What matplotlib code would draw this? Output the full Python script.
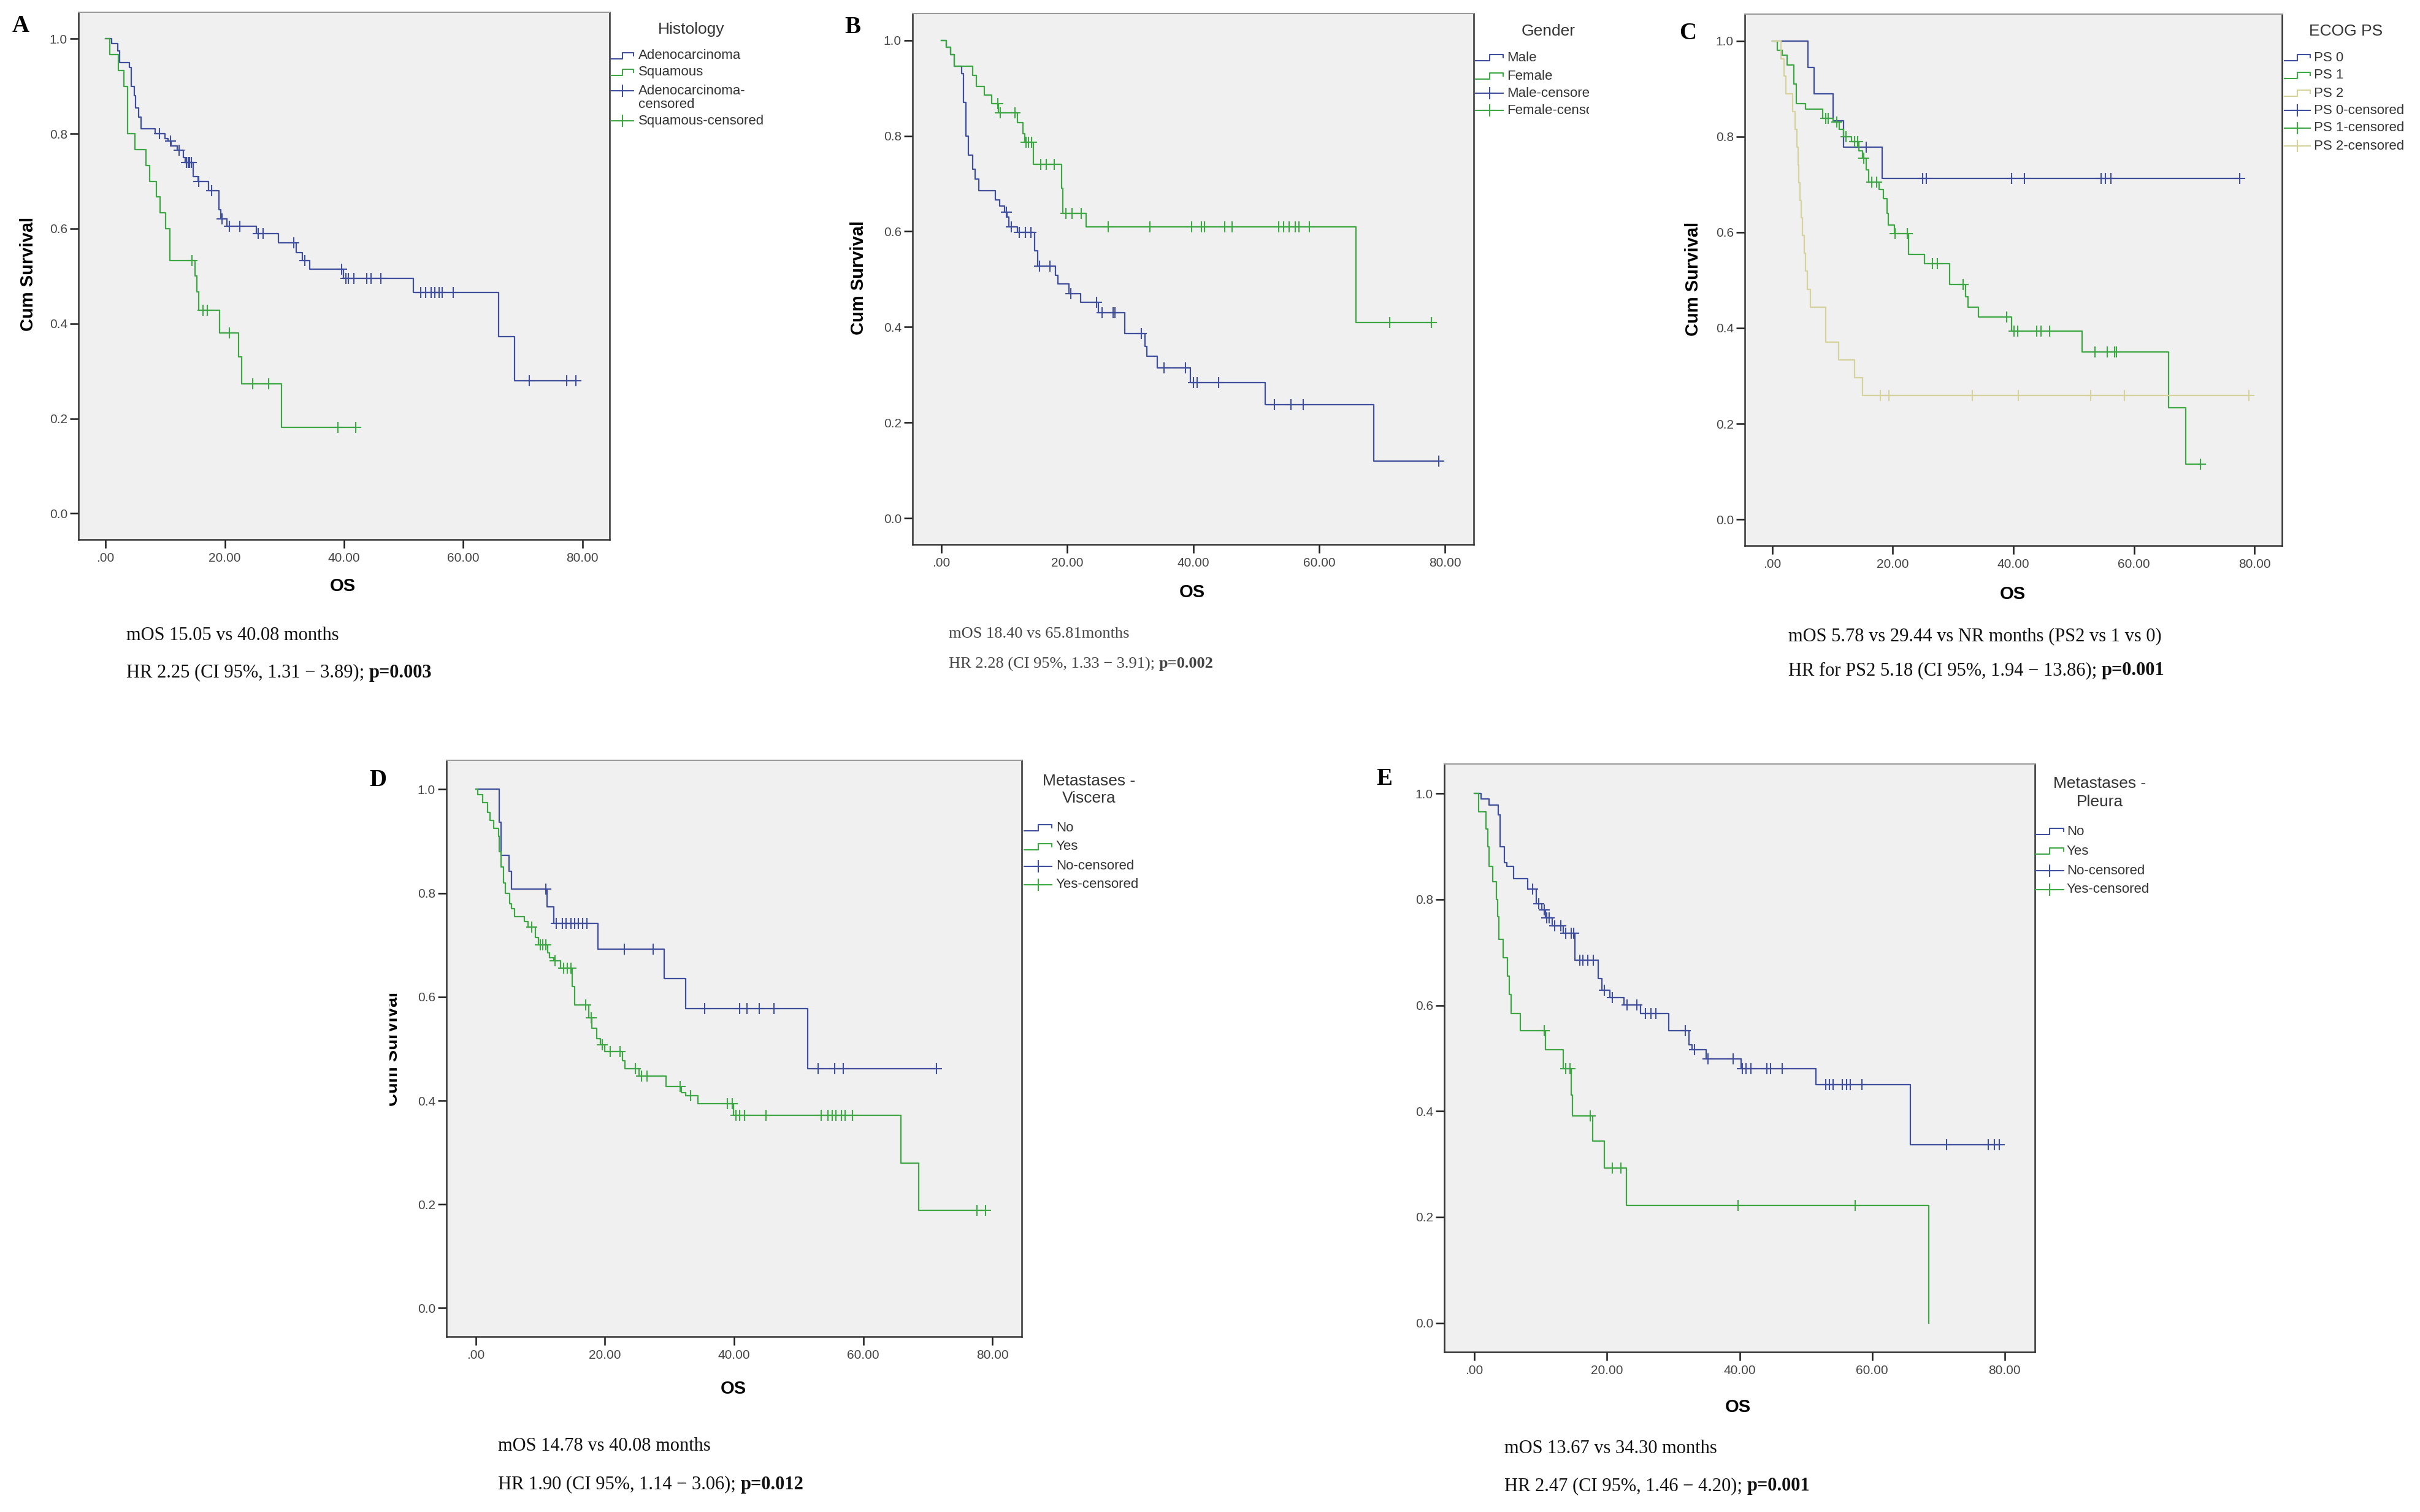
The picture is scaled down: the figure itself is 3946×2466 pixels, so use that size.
import numpy as np
import matplotlib
matplotlib.use("Agg")
import matplotlib.pyplot as plt
from matplotlib.lines import Line2D
from matplotlib.transforms import Bbox, TransformedBbox

W, H = 3946, 2466

BLUE = "#3F4F9E"
GREEN = "#3DA843"
TAN = "#D6D29C"

# ---- A: histology ----
adeno_t = [1.0, 2.0, 2.3, 4.0, 4.3, 4.8, 5.0, 5.5, 5.9, 8.3, 10.0, 10.5, 11.0, 12.0, 13.0, 13.4, 14.7, 15.5,
           17.3, 19.0, 19.3, 20.4, 25.3, 29.0, 32.0, 33.0, 34.2, 39.9, 51.6, 65.9, 68.6]
adeno_s = [0.99, 0.975, 0.95, 0.94, 0.90, 0.88, 0.855, 0.835, 0.81, 0.80, 0.79, 0.785, 0.775, 0.765, 0.75, 0.74,
           0.71, 0.70, 0.68, 0.64, 0.62, 0.605, 0.59, 0.57, 0.55, 0.533, 0.515, 0.495, 0.465, 0.372, 0.279]
adeno_c = [9.0, 10.9, 12.3, 13.6, 13.9, 14.1, 14.4, 15.6, 17.8, 19.5, 20.8, 22.5, 25.6, 26.4, 31.6, 33.4, 39.6,
           40.3, 40.7, 41.6, 43.8, 44.5, 46.2, 52.9, 53.7, 54.6, 55.2, 55.9, 56.5, 58.3, 71.1, 77.3, 78.9]
squam_t = [0.7, 2.1, 3.1, 3.7, 4.9, 6.8, 7.4, 8.5, 9.1, 10.1, 10.8, 15.0, 15.3, 15.6, 19.1, 22.3, 22.8, 29.5]
squam_s = [0.967, 0.933, 0.90, 0.80, 0.767, 0.733, 0.70, 0.667, 0.633, 0.60, 0.533, 0.50, 0.467, 0.428, 0.38,
           0.33, 0.273, 0.182]
squam_c = [14.5, 16.3, 17.1, 20.8, 24.7, 27.3, 39.0, 42.0]

# ---- B: gender ----
male_t = [0.8, 1.5, 2.1, 3.2, 3.5, 3.9, 4.3, 5.0, 5.4, 6.0, 8.6, 9.3, 10.1, 10.4, 10.7, 12.1, 14.8, 15.3, 18.1,
          18.5, 20.3, 22.1, 25.0, 29.1, 32.4, 32.6, 34.3, 39.6, 51.4, 68.7]
male_s = [0.985, 0.97, 0.946, 0.93, 0.87, 0.80, 0.76, 0.73, 0.709, 0.685, 0.666, 0.653, 0.64, 0.63, 0.61, 0.598,
          0.56, 0.527, 0.508, 0.49, 0.47, 0.452, 0.43, 0.386, 0.36, 0.339, 0.315, 0.284, 0.237, 0.12]
male_c = [10.3, 11.1, 12.4, 13.4, 14.2, 15.6, 17.3, 20.6, 24.7, 25.5, 27.3, 27.6, 31.8, 35.4, 38.8, 40.0, 40.6,
          44.0, 52.9, 55.5, 57.5, 79.0]
female_t = [0.8, 1.5, 2.1, 5.0, 5.6, 6.8, 8.0, 9.1, 12.1, 13.0, 13.3, 14.6, 19.1, 19.3, 23.0, 65.9]
female_s = [0.985, 0.97, 0.946, 0.927, 0.903, 0.885, 0.867, 0.848, 0.828, 0.805, 0.786, 0.741, 0.69, 0.638,
            0.61, 0.409]
female_c = [9.0, 9.4, 11.7, 13.5, 13.9, 14.3, 15.8, 16.7, 17.9, 19.8, 20.8, 22.2, 26.5, 33.1, 39.8, 41.3, 41.8,
            45.0, 46.2, 53.6, 54.4, 55.2, 56.2, 56.8, 58.5, 71.2, 77.8]

# ---- C: ECOG PS ----
ps0_t = [5.9, 6.9, 10.1, 11.8, 18.2]
ps0_s = [0.944, 0.889, 0.833, 0.778, 0.713]
ps0_c = [15.6, 24.9, 25.6, 39.7, 41.8, 54.5, 55.3, 56.2, 77.5]
ps1_t = [0.85, 1.7, 2.5, 3.6, 4.0, 5.5, 8.4, 10.1, 11.1, 11.8, 13.1, 14.4, 15.0, 15.6, 16.0, 17.7, 18.4, 19.0,
         19.3, 20.3, 22.6, 25.3, 29.4, 32.1, 32.5, 34.2, 39.7, 51.4, 65.7, 68.6]
ps1_s = [0.98, 0.97, 0.95, 0.91, 0.869, 0.858, 0.838, 0.83, 0.815, 0.80, 0.79, 0.77, 0.755, 0.73, 0.705, 0.69,
         0.67, 0.64, 0.615, 0.597, 0.554, 0.535, 0.491, 0.465, 0.444, 0.423, 0.394, 0.35, 0.233, 0.115]
ps1_c = [8.9, 9.3, 10.7, 12.2, 13.7, 14.2, 15.2, 16.5, 17.3, 20.4, 22.4, 26.6, 27.4, 31.7, 38.9, 40.1, 40.7,
         43.9, 44.6, 46.0, 53.5, 55.6, 56.8, 57.1, 71.0]
ps2_t = [1.5, 2.0, 2.3, 3.4, 3.8, 4.1, 4.3, 4.4, 4.6, 4.8, 5.0, 5.3, 5.5, 5.8, 6.3, 8.9, 11.0, 13.7, 15.0]
ps2_s = [0.963, 0.926, 0.889, 0.852, 0.815, 0.778, 0.741, 0.704, 0.667, 0.630, 0.593, 0.556, 0.519, 0.481,
         0.444, 0.370, 0.333, 0.296, 0.259]
ps2_c = [17.9, 19.4, 33.2, 40.8, 52.8, 58.4, 79.1]

# ---- D: viscera metastases ----
visc_no_t = [3.6, 3.9, 5.1, 5.5, 11.0, 12.1, 18.9, 29.2, 32.5, 51.4]
visc_no_s = [0.937, 0.873, 0.842, 0.808, 0.773, 0.742, 0.692, 0.635, 0.577, 0.461]
visc_no_c = [10.8, 12.5, 13.4, 14.0, 14.7, 15.3, 15.9, 16.5, 17.2, 23.0, 27.5, 35.4, 40.9, 42.0, 43.9, 46.2,
             53.0, 55.6, 56.9, 71.3]
visc_yes_t = [0.3, 1.1, 1.8, 2.2, 2.8, 3.5, 3.6, 3.9, 4.3, 4.6, 5.2, 5.5, 6.0, 7.5, 8.1, 9.2, 9.7, 11.1, 11.4,
              12.1, 13.1, 14.9, 15.3, 17.5, 18.0, 18.7, 19.3, 20.0, 22.7, 23.1, 25.3, 29.5, 31.8, 32.5, 34.4,
              39.9, 65.8, 68.6]
visc_yes_s = [0.99, 0.975, 0.955, 0.94, 0.925, 0.91, 0.88, 0.85, 0.82, 0.80, 0.78, 0.77, 0.755, 0.745, 0.735,
              0.715, 0.70, 0.685, 0.675, 0.67, 0.655, 0.62, 0.584, 0.56, 0.54, 0.52, 0.508, 0.495, 0.477, 0.462,
              0.447, 0.427, 0.415, 0.41, 0.394, 0.372, 0.28, 0.188]
visc_yes_c = [8.7, 10.0, 10.4, 10.8, 12.3, 13.6, 14.2, 14.7, 17.0, 17.9, 19.6, 20.8, 22.3, 24.7, 25.7, 26.5,
              31.6, 33.3, 39.0, 39.7, 40.3, 40.9, 41.6, 44.9, 53.5, 54.5, 55.2, 55.8, 56.6, 57.2, 58.3, 77.6, 78.9]

# ---- E: pleura metastases ----
pleu_no_t = [1.0, 2.2, 3.6, 3.9, 4.5, 4.9, 5.9, 8.0, 9.3, 10.2, 10.7, 11.7, 13.4, 15.2, 18.7, 19.2, 20.4, 22.6,
             25.1, 29.3, 32.4, 32.8, 35.0, 40.2, 51.5, 65.8]
pleu_no_s = [0.99, 0.978, 0.96, 0.90, 0.87, 0.862, 0.839, 0.82, 0.792, 0.78, 0.765, 0.75, 0.736, 0.685, 0.65,
             0.629, 0.615, 0.601, 0.585, 0.552, 0.525, 0.516, 0.499, 0.48, 0.45, 0.337]
pleu_no_c = [8.8, 9.7, 10.5, 10.9, 11.3, 12.1, 13.0, 13.8, 14.6, 15.0, 15.9, 16.4, 17.1, 17.9, 19.6, 20.8, 23.0,
             24.5, 25.8, 26.6, 27.4, 31.8, 33.2, 35.2, 39.0, 40.4, 41.0, 41.7, 44.1, 44.7, 46.4, 53.0, 53.6, 54.1,
             55.5, 56.1, 56.7, 58.5, 71.2, 77.5, 78.4, 79.2]
pleu_yes_t = [0.6, 1.7, 2.0, 2.2, 2.8, 3.3, 3.5, 3.7, 4.3, 5.0, 5.3, 5.5, 6.9, 10.7, 13.4, 14.6, 14.8, 17.8,
              19.6, 22.9, 68.5]
pleu_yes_s = [0.966, 0.933, 0.90, 0.862, 0.834, 0.80, 0.767, 0.725, 0.69, 0.655, 0.62, 0.585, 0.552, 0.516,
              0.48, 0.43, 0.391, 0.343, 0.293, 0.222, 0.0]
pleu_yes_c = [10.5, 13.8, 14.4, 17.5, 20.8, 22.1, 39.8, 57.4]

xticks = [0, 20, 40, 60, 80]
xticklabels = [".00", "20.00", "40.00", "60.00", "80.00"]
yticks = [0.0, 0.2, 0.4, 0.6, 0.8, 1.0]
yticklabels = ["0.0", "0.2", "0.4", "0.6", "0.8", "1.0"]

SANS = "Liberation Sans"
SERIF = "Liberation Serif"

fig = plt.figure(figsize=(W / 100, H / 100), dpi=100)
renderer = fig.canvas.get_renderer()


def fx(x):
    return x / W


def fy(y):
    return 1 - y / H


def make_axes(l, t, r, b):
    ax = fig.add_axes([fx(l), fy(b), (r - l) / W, (b - t) / H])
    ax.set_facecolor("#F0F0F0")
    ax.set_xlim(-4.55, 84.55)
    ax.set_ylim(-0.055, 1.056)
    ax.set_xticks(xticks)
    ax.set_xticklabels(xticklabels)
    ax.set_yticks(yticks)
    ax.set_yticklabels(yticklabels)
    ax.tick_params(direction="out", length=10, width=1.8, colors="#1a1a1a", labelcolor="#444444",
                   labelsize=15, pad=3)
    ax.tick_params(axis="x", pad=5)
    for lab in ax.get_xticklabels() + ax.get_yticklabels():
        lab.set_fontfamily(SANS)
    for side in ["left", "bottom", "right"]:
        ax.spines[side].set_color("#333333")
        ax.spines[side].set_linewidth(1.8)
    ax.spines["top"].set_color("#9a9a9a")
    ax.spines["top"].set_linewidth(1.5)
    return ax


def km(ax, t, s, c, color):
    t = np.asarray(t)
    s = np.asarray(s)
    end = max(t[-1], max(c) if len(c) else 0)
    xs = np.concatenate([[0.0], t, [end]])
    ys = np.concatenate([[1.0], s, [s[-1]]])
    ax.plot(xs, ys, drawstyle="steps-post", color=color, lw=1.6, zorder=3)
    c = np.asarray(c)
    idx = np.searchsorted(t, c, side="right")
    cy = np.concatenate([[1.0], s])[idx]
    ax.plot(c, cy, ls="none", marker="+", ms=13, mew=1.5, color=color, zorder=4)


def legend(title_lines, title_x, title_ys, text_x, hx0, hx1, entries, ys, clip_x=None):
    for line, ty in zip(title_lines, title_ys):
        fig.text(fx(title_x), fy(ty), line, ha="center", va="center", fontsize=19,
                 family=SANS, color="#333333")
    for (label, color, kind), y in zip(entries, ys):
        if kind == "step":
            w = hx1 - hx0
            px = [hx0, hx0 + 0.5 * w, hx0 + 0.5 * w, hx1, hx1]
            py = [y + 5, y + 5, y - 5, y - 5, y]
            fig.add_artist(Line2D([fx(v) for v in px], [fy(v) for v in py], color=color, lw=1.5,
                                  transform=fig.transFigure))
        else:
            fig.add_artist(Line2D([fx(hx0), fx(hx1)], [fy(y), fy(y)], color=color, lw=1.5,
                                  transform=fig.transFigure))
            fig.add_artist(Line2D([fx((hx0 + hx1) / 2)], [fy(y)], color=color, marker="+", ms=14, mew=1.5,
                                  transform=fig.transFigure))
        lines = label.split("\n")
        for k, part in enumerate(lines):
            tx = fig.text(fx(text_x), fy(y + k * 22), part, ha="left", va="center", fontsize=16,
                          family=SANS, color="#333333")
            if clip_x is not None:
                tx.set_clip_on(True)
                tx.set_clip_box(TransformedBbox(Bbox.from_extents(0, 0, fx(clip_x), 1), fig.transFigure))


def caption(x, y1, y2, line1, line2a, line2b, size=22, color="#111111"):
    fig.text(fx(x), fy(y1), line1, ha="left", va="center", fontsize=size, family=SERIF, color=color)
    t = fig.text(fx(x), fy(y2), line2a, ha="left", va="center", fontsize=size, family=SERIF, color=color)
    bb = t.get_window_extent(renderer)
    fig.text(bb.x1 / fig.bbox.width, fy(y2), line2b, ha="left", va="center", fontsize=size, family=SERIF,
             weight="bold", color=color)


def labels(letter, lx, ly, ylab_xy, os_xy, ylab_clip=None):
    fig.text(fx(lx), fy(ly), letter, ha="left", va="center", fontsize=28, family=SERIF, weight="bold")
    if ylab_xy is not None:
        t = fig.text(fx(ylab_xy[0]), fy(ylab_xy[1]), "Cum Survival", rotation=90, ha="center", va="center",
                     fontsize=21, family=SANS, weight="bold")
        if ylab_clip is not None:
            t.set_clip_on(True)
            t.set_clip_box(TransformedBbox(Bbox.from_extents(fx(ylab_clip), 0, 1, 1), fig.transFigure))
    fig.text(fx(os_xy[0]), fy(os_xy[1]), "OS", ha="center", va="center", fontsize=21, family=SANS,
             weight="bold")


# Panel A
ax = make_axes(128, 20, 994, 880)
km(ax, adeno_t, adeno_s, adeno_c, BLUE)
km(ax, squam_t, squam_s, squam_c, GREEN)
labels("A", 20, 42, (46, 447), (559, 956))
legend(["Histology"], 1127, [48], 1041, 996, 1033,
       [("Adenocarcinoma", BLUE, "step"), ("Squamous", GREEN, "step"),
        ("Adenocarcinoma-\ncensored", BLUE, "cens"), ("Squamous-censored", GREEN, "cens")],
       [91, 118, 148, 197])
caption(206, 1037, 1097, "mOS 15.05 vs 40.08 months", "HR 2.25 (CI 95%, 1.31 \u2212 3.89); ", "p=0.003")

# Panel B
ax = make_axes(1488, 22, 2403, 888)
km(ax, male_t, male_s, male_c, BLUE)
km(ax, female_t, female_s, female_c, GREEN)
labels("B", 1377, 44, (1400, 453), (1944, 966))
legend(["Gender"], 2525, [51], 2457, 2406, 2451,
       [("Male", BLUE, "step"), ("Female", GREEN, "step"),
        ("Male-censored", BLUE, "cens"), ("Female-censored", GREEN, "cens")],
       [94, 124, 152, 180], clip_x=2591)
caption(1547, 1034, 1083, "mOS 18.40 vs 65.81months", "HR 2.28 (CI 95%, 1.33 \u2212 3.91); ", "p=0.002",
        size=19, color="#444444")

# Panel C
ax = make_axes(2845, 23, 3721, 890)
km(ax, ps0_t, ps0_s, ps0_c, BLUE)
km(ax, ps1_t, ps1_s, ps1_c, GREEN)
km(ax, ps2_t, ps2_s, ps2_c, TAN)
labels("C", 2738, 55, (2761, 455), (3282, 969))
legend(["ECOG PS"], 3825, [51], 3773, 3725, 3767,
       [("PS 0", BLUE, "step"), ("PS 1", GREEN, "step"), ("PS 2", TAN, "step"),
        ("PS 0-censored", BLUE, "cens"), ("PS 1-censored", GREEN, "cens"), ("PS 2-censored", TAN, "cens")],
       [94, 123, 152, 180, 209, 238])
caption(2916, 1038, 1094, "mOS 5.78 vs 29.44 vs NR months (PS2 vs 1 vs 0)",
        "HR for PS2 5.18 (CI 95%, 1.94 \u2212 13.86); ", "p=0.001")

# Panel D
ax = make_axes(728, 1240, 1666, 2180)
km(ax, visc_no_t, visc_no_s, visc_no_c, BLUE)
km(ax, visc_yes_t, visc_yes_s, visc_yes_c, GREEN)
labels("D", 602, 1272, (640, 1711), (1196, 2265), ylab_clip=635)
legend(["Metastases -", "Viscera"], 1776, [1274, 1302], 1722, 1670, 1715,
       [("No", BLUE, "step"), ("Yes", GREEN, "step"),
        ("No-censored", BLUE, "cens"), ("Yes-censored", GREEN, "cens")],
       [1350, 1381, 1413, 1443])
caption(812, 2359, 2421, "mOS 14.78 vs 40.08 months", "HR 1.90 (CI 95%, 1.14 \u2212 3.06); ", "p=0.012")

# Panel E
ax = make_axes(2355, 1246, 3318, 2205)
km(ax, pleu_no_t, pleu_no_s, pleu_no_c, BLUE)
km(ax, pleu_yes_t, pleu_yes_s, pleu_yes_c, GREEN)
labels("E", 2244, 1271, None, (2834, 2295))
legend(["Metastases -", "Pleura"], 3424, [1278, 1308], 3370, 3319, 3365,
       [("No", BLUE, "step"), ("Yes", GREEN, "step"),
        ("No-censored", BLUE, "cens"), ("Yes-censored", GREEN, "cens")],
       [1356, 1388, 1420, 1451])
caption(2453, 2362, 2424, "mOS 13.67 vs 34.30 months", "HR 2.47 (CI 95%, 1.46 \u2212 4.20); ", "p=0.001")

fig.savefig("out.png", dpi=100)
